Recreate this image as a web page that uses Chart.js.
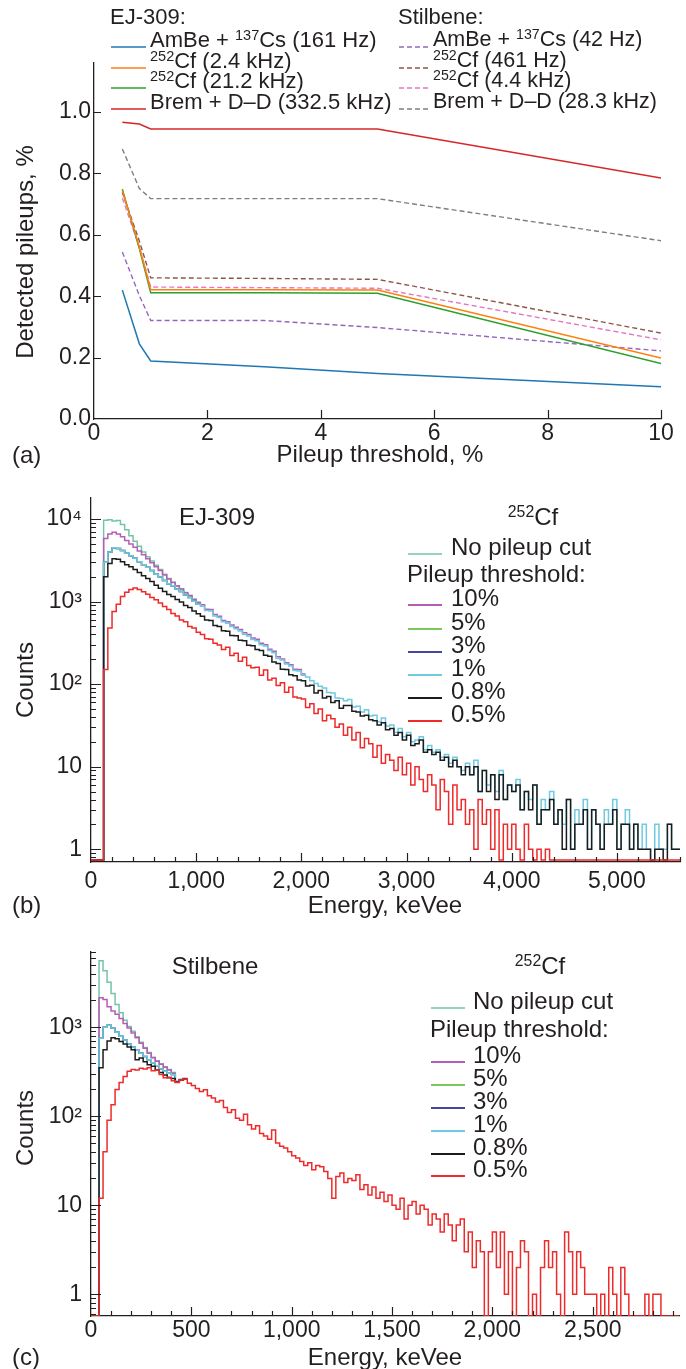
<!DOCTYPE html>
<html>
<head>
<meta charset="utf-8">
<script src="https://cdn.jsdelivr.net/npm/chart.js@4.4.1/dist/chart.umd.min.js"></script>
<style>
  html, body { margin: 0; padding: 0; background: #fff; }
  #page { position: relative; width: 686px; height: 1369px; overflow: hidden;
          font-family: 'Liberation Sans', Arial, Helvetica, sans-serif; color: #231f20; }
  canvas { position: absolute; left: 0; }
  .txt { position: absolute; white-space: nowrap; line-height: 1; }
  .txt sup { font-size: 0.66em; vertical-align: 0.5em; line-height: 0; }
</style>
</head>
<body>
<div id="page">
  <canvas id="chartA" width="686" height="470" style="top:0px"></canvas>
  <canvas id="chartB" width="686" height="450" style="top:470px"></canvas>
  <canvas id="chartC" width="686" height="449" style="top:920px"></canvas>
</div>
<script>
const FONT = "'Liberation Sans', Arial, Helvetica, sans-serif";
const INK = '#231f20';

// ---------- (a) detected pileups vs threshold ----------
const thresholds = [0.5, 0.8, 1, 3, 5, 10];
const ejAmBe  = [0.420, 0.245, 0.189, 0.170, 0.148, 0.105];
const ejCf24  = [0.745, 0.560, 0.421, 0.421, 0.420, 0.199];
const ejCf212 = [0.749, 0.555, 0.411, 0.411, 0.410, 0.181];
const ejBrem  = [0.967, 0.961, 0.945, 0.945, 0.945, 0.785];
const stAmBe  = [0.544, 0.402, 0.321, 0.321, 0.298, 0.222];
const stCf461 = [0.738, 0.580, 0.460, 0.458, 0.455, 0.280];
const stCf44  = [0.720, 0.560, 0.430, 0.428, 0.426, 0.258];
const stBrem  = [0.880, 0.751, 0.718, 0.718, 0.718, 0.581];
const ejLabels = ['AmBe + <sup>137</sup>Cs (161 Hz)', '<sup>252</sup>Cf (2.4 kHz)', '<sup>252</sup>Cf (21.2 kHz)', 'Brem + D–D (332.5 kHz)'];
const stLabels = ['AmBe + <sup>137</sup>Cs (42 Hz)', '<sup>252</sup>Cf (461 Hz)', '<sup>252</sup>Cf (4.4 kHz)', 'Brem + D–D (28.3 kHz)'];
const xTicksA = [0, 2, 4, 6, 8, 10];
const xLabelsA = ['0', '2', '4', '6', '8', '10'];
const yTicksA = [0, 0.2, 0.4, 0.6, 0.8, 1.0];
const yLabelsA = ['0.0', '0.2', '0.4', '0.6', '0.8', '1.0'];

// ---------- (b) EJ-309 252Cf spectra, 40 keVee bins ----------
const binB = 40;
const noCutB = [0,0,0,9700,9800,9500,9600,8600,7400,6300,5400,4700,4000,3500,3100,2750,2450,2150,1900,1720,1560,1430,1290,1190,1070,980];
const p10B = [0,0,0,5800,6600,6900,6600,6100,5500,5000,4550,4100,3700,3300,2950,2650,2380,2100,1880,1710,1550,1420,1280,1180,1060,
  975,915,810,800,700,665,590,570,520,488,458,420,400,362,350,312,300,264,250,214,202,182,172,152,150,133];
const p5B = [0,0,0,3000,4000,4500,4400,4150,3850,3600,3350,3050,2800,2600,2380,2150,1980,1800,1650,1560,1420,1330,1200,1120,1010,930];
const p3B = [0,0,0,3000,4000,4500,4400,4150,3850,3600,3350,3050,2800,2600,2380,2150,1980,1800,1650,1560,1420,1330,1200,1120,1010,930];
const p1B = [0,0,0,3000,4000,4500,4400,4150,3850,3600,
  3350,3050,2800,2600,2380,2150,1980,1800,1650,1560,
  1420,1330,1200,1120,1010,930,880,780,770,670,
  640,570,548,500,468,440,402,384,348,336,
  300,290,255,240,205,196,176,166,146,144,
  128,122,110,102,94,90,79,78,68,67,
  63,65,53,54,46,49,41,42,35,39,
  31,32,26,29,23,26,20,21,23,16,
  18,15,16,13,14,11,13,10,9,11,
  8,12,5,9,6,8,5,9,4,6,
  5,7,3,5,4,6,2,4,3,5,
  2,3,2,4,1,3,2,4,1,3,
  2,1,3,2,4,1,2,3,1,2,
  1,2,1,0,2,1,1,2,1,1];
const p08B = [0,0,0,2000,2900,3300,3250,3050,2800,2650,
  2450,2250,2050,1900,1750,1580,1450,1330,1220,1150,
  1060,990,900,850,770,715,665,600,590,515,
  500,445,438,388,385,340,335,296,292,262,
  255,224,218,186,178,152,150,130,126,112,
  110,95,97,78,84,68,71,60,63,51,
  55,55,47,46,41,42,37,36,32,34,
  28,29,24,26,21,24,18,19,21,15,
  16,14,15,12,13,10,12,10,8,10,
  8,10,5,9,5,8,4,8,4,6,
  5,6,3,5,3,6,2,3,3,4,
  2,3,1,4,1,2,2,3,1,3,
  2,1,2,2,3,1,2,2,1,2,
  1,1,1,0,1,1,0,2,1,1];
const p05B = [0,0,0,150,480,760,930,1150,1300,1400,
  1460,1400,1320,1230,1120,1050,960,870,800,720,
  670,600,570,500,478,424,400,356,350,312,
  298,262,280,222,236,190,212,168,158,160,
  128,148,112,118,96,104,80,92,70,68,
  66,52,58,44,50,36,42,38,30,33,
  24,30,21,26,17,22,19,13,18,11,
  14,12,9,13,8,11,6,10,7,5,
  8,6,3,7,5,2,6,3,4,2,
  3,1,4,2,3,1,3,0,2,1,
  2,1,0,2,1,0,1,0,1,0,
  0,0,0,0,0,0,0,0,0,0,
  0,0,0,0,0,0,0,0,0,0,
  0,0,0,0,0,0,0,0,0,0];
const xTicksB = [0, 1000, 2000, 3000, 4000, 5000];
const xLabelsB = ['0', '1,000', '2,000', '3,000', '4,000', '5,000'];

// ---------- (c) Stilbene 252Cf spectra, 20 keVee bins ----------
const binC = 20;
const noCutC = [0,0,5600,4300,3200,2400,1800,1450,1200,1020,900,780,680,590,520,460,420,390,360,335,310,245,258,265];
const p10C = [0,0,2150,2050,1700,1520,1400,1250,1100,980,860,760,660,580,510,455,415,385,355,330,305,245,258,265];
const p5C = [0,0,750,1000,1050,980,880,790,720,650,600,550,510,470,430,400,370,340,320,305,295,244,257,264];
const p3C = [0,0,750,1000,1050,980,880,790,720,650,600,550,510,470,430,400,370,340,320,305,295,244,257,264];
const p1C = [0,0,750,1000,1050,980,880,790,720,650,600,550,510,470,430,400,370,340,320,305,295,244,257,264];
const p08C = [0,0,350,560,700,760,740,690,650,600,560,430,450,410,380,365,330,310,290,270,265,242,256,263];
const p05C = [0,0,12,40,90,135,200,240,280,320,
  335,330,345,340,350,325,330,295,270,275,
  250,240,255,262,235,222,205,190,198,170,
  160,145,150,125,110,118,95,90,105,80,
  72,78,64,60,55,70,50,46,44,40,
  36,34,31,28,30,25,28,27,24,20,
  12,21,23,18,20,19,22,15,17,13,
  16,12,14,11,13,10,9,12,7,10,
  11,8,10,9,6,8,7,5,8,6,
  4,6,7,3,5,2,4,3,0,3,
  5,2,5,1,3,0,2,4,3,0,
  1,0,2,4,2,3,1,0,5,3,
  1,3,2,1,1,1,0,1,0,2,
  1,0,2,1,0,0,0,0,1,0,
  1,1,0,0,0,0,0];
const xTicksC = [0, 500, 1000, 1500, 2000, 2500];
const xLabelsC = ['0', '500', '1,000', '1,500', '2,000', '2,500'];

const decades = [1, 10, 100, 1000, 10000];
const decadeLabels = ['1', '10', '10²', '10³', '10⁴'];
const pileLabels = ['10%', '5%', '3%', '1%', '0.8%', '0.5%'];

const colorsEJ = ['#1f77b4', '#ff7f0e', '#2ca02c', '#d62728'];
const colorsSt = ['#9467bd', '#8c564b', '#e377c2', '#7f7f7f'];
const noCutColor = '#74c5a6';
const pileColors = ['#b65db6', '#7ec75c', '#45479b', '#6fcae0', '#1c1c1c', '#ee2a2a'];

// inward tick marks, placed through the chart's own scales
const inTicks = {
  id: 'inTicks',
  afterDatasetsDraw(chart, args, opts) {
    const { ctx, chartArea } = chart;
    ctx.save();
    ctx.strokeStyle = INK;
    ctx.lineWidth = 1.2;
    ctx.beginPath();
    opts.x.forEach(t => {
      const px = Math.round(chart.scales.x.getPixelForValue(t.v)) + 0.5;
      ctx.moveTo(px, chartArea.bottom);
      ctx.lineTo(px, chartArea.bottom - t.len);
    });
    opts.y.forEach(t => {
      const py = Math.round(chart.scales.y.getPixelForValue(t.v)) + 0.5;
      ctx.moveTo(chartArea.left, py);
      ctx.lineTo(chartArea.left + t.len, py);
    });
    ctx.stroke();
    ctx.restore();
  }
};

function axes(o) {
  const tickFont = { family: FONT, size: 23 };
  return {
    x: {
      type: 'linear', min: o.xMin, max: o.xMax,
      grid: { display: false, drawTicks: false },
      border: { color: INK, width: 1.3 },
      ticks: { color: INK, font: tickFont, padding: o.xPad, maxRotation: 0, autoSkip: false,
               callback: v => o.xLabels[o.xTicks.indexOf(v)] },
      afterBuildTicks: s => { s.ticks = o.xTicks.filter(v => v >= o.xMin && v <= o.xMax).map(v => ({ value: v })); },
      afterFit: s => { s.height = o.xHeight; }
    },
    y: {
      type: o.yType, min: o.yMin, max: o.yMax,
      grid: { display: false, drawTicks: false },
      border: { color: INK, width: 1.3 },
      ticks: { color: INK, font: tickFont, padding: o.yPad, autoSkip: false,
               callback: v => o.yLabels[o.yTicks.indexOf(v)] },
      afterBuildTicks: s => { s.ticks = o.yTicks.filter(v => v >= o.yMin && v <= o.yMax).map(v => ({ value: v })); },
      afterFit: s => { s.width = o.yWidth; }
    }
  };
}

function logMinorTicks(lo, hi) {
  const out = [];
  for (let d = 0.1; d <= hi; d *= 10) {
    for (let k = 1; k <= 9; k++) {
      const v = Math.round(k * d * 1000) / 1000;
      if (v >= lo && v <= hi) out.push({ v, len: k === 1 ? 10 : 5 });
    }
  }
  return out;
}

function linTicks(step, minor, max) {
  const out = [];
  for (let v = minor; v <= max; v += minor) {
    out.push({ v, len: v % step === 0 ? 9 : 5 });
  }
  return out;
}

function histPoints(values, bin, floor) {
  const pts = values.map((v, i) => ({ x: i * bin, y: v > 0 ? v : floor }));
  const last = values[values.length - 1];
  pts.push({ x: values.length * bin, y: last > 0 ? last : floor });
  return pts;
}

const common = {
  responsive: false, animation: false, devicePixelRatio: 1, events: [],
  plugins: { legend: { display: false }, tooltip: { enabled: false } }
};

// ---------- chart (a) ----------
const ejSeries = [ejAmBe, ejCf24, ejCf212, ejBrem];
const stSeries = [stAmBe, stCf461, stCf44, stBrem];
const dataA = [];
ejSeries.forEach((s, k) => dataA.push({
  label: ejLabels[k].replace(/<\/?sup>/g, ''),
  data: thresholds.map((t, i) => ({ x: t, y: s[i] })),
  borderColor: colorsEJ[k], borderWidth: 1.5, pointRadius: 0, tension: 0
}));
stSeries.forEach((s, k) => dataA.push({
  label: stLabels[k].replace(/<\/?sup>/g, ''),
  data: thresholds.map((t, i) => ({ x: t, y: s[i] })),
  borderColor: colorsSt[k], borderWidth: 1.4, borderDash: [5, 3], pointRadius: 0, tension: 0
}));

new Chart(document.getElementById('chartA'), {
  type: 'line',
  data: { datasets: dataA },
  options: {
    ...common,
    layout: { padding: { left: 0, right: 25, top: 63, bottom: 0 } },
    scales: axes({ xMin: 0, xMax: 10, xTicks: xTicksA, xLabels: xLabelsA, xPad: 1, xHeight: 51,
                   yType: 'linear', yMin: 0, yMax: 1.16, yTicks: yTicksA, yLabels: yLabelsA, yPad: 3, yWidth: 94 }),
    plugins: { ...common.plugins,
      inTicks: { x: xTicksA.slice(1).map(v => ({ v, len: 9 })), y: yTicksA.slice(1).map(v => ({ v, len: 7 })) } }
  },
  plugins: [inTicks]
});

// ---------- charts (b) and (c) ----------
function spectrumChart(id, bin, series, o) {
  const datasets = series.map((s, k) => ({
    label: k === 0 ? 'No pileup cut' : pileLabels[k - 1],
    data: histPoints(s, bin, o.yMin),
    borderColor: k === 0 ? noCutColor : pileColors[k - 1],
    borderWidth: o.lineWidth, pointRadius: 0, stepped: true, order: series.length - k
  }));
  new Chart(document.getElementById(id), {
    type: 'line',
    data: { datasets },
    options: {
      ...common,
      layout: { padding: { left: 0, right: o.padRight, top: o.padTop, bottom: 0 } },
      scales: axes({ xMin: 0, xMax: o.xMax, xTicks: o.xTicks, xLabels: o.xLabels, xPad: o.xPad, xHeight: o.xHeight,
                     yType: 'logarithmic', yMin: o.yMin, yMax: o.yMax, yTicks: decades, yLabels: decadeLabels,
                     yPad: 9, yWidth: o.yWidth }),
      plugins: { ...common.plugins,
        inTicks: { x: linTicks(o.xStep, o.xMinor, o.xMax), y: logMinorTicks(o.yMin, o.yMax) } }
    },
    plugins: [inTicks]
  });
}

spectrumChart('chartB', binB, [noCutB, p10B, p5B, p3B, p1B, p08B, p05B], {
  xMax: 5600, xTicks: xTicksB, xLabels: xLabelsB, xStep: 1000, xMinor: 200, xPad: 6, xHeight: 58,
  yMin: 0.74, yMax: 18000, yWidth: 91, padTop: 28, padRight: 6, lineWidth: 1.5
});
spectrumChart('chartC', binC, [noCutC, p10C, p5C, p3C, p1C, p08C, p05C], {
  xMax: 2930, xTicks: xTicksC, xLabels: xLabelsC, xStep: 500, xMinor: 100, xPad: 1, xHeight: 53,
  yMin: 0.57, yMax: 7000, yWidth: 91, padTop: 32, padRight: 7, lineWidth: 1.5
});

// ---------- text and legends ----------
const page = document.getElementById('page');
function addText(html, x, y, size, align, rotate) {
  const el = document.createElement('div');
  el.className = 'txt';
  el.innerHTML = html;
  el.style.fontSize = size + 'px';
  el.style.left = x + 'px';
  el.style.top = y + 'px';
  const tx = align === 'center' ? '-50%' : (align === 'right' ? '-100%' : '0');
  el.style.transform = 'translate(' + tx + ', -50%)' + (rotate ? ' rotate(-90deg)' : '');
  page.appendChild(el);
}
function addKey(x, y, w, color, dashed, width) {
  const el = document.createElement('div');
  el.style.cssText = 'position:absolute;left:' + x + 'px;top:' + (y - 3) + 'px;width:' + w + 'px;height:6px';
  el.innerHTML = '<svg width="' + w + '" height="6"><line x1="0" y1="3" x2="' + w + '" y2="3" stroke="' + color +
    '" stroke-width="' + width + '"' + (dashed ? ' stroke-dasharray="5,3"' : '') + '/></svg>';
  page.appendChild(el);
}

// (a)
addText('EJ-309:', 110, 17, 22, 'left');
addText('Stilbene:', 398, 17, 22, 'left');
const rowsA = [40, 60.5, 81, 101.5];
ejLabels.forEach((l, k) => { addKey(111, rowsA[k] - 1, 35, colorsEJ[k], false, 1.5); addText(l, 150, rowsA[k], 22, 'left'); });
stLabels.forEach((l, k) => { addKey(399, rowsA[k] - 1, 31, colorsSt[k], true, 1.4); addText(l, 433, rowsA[k], 21.5, 'left'); });
addText('Detected pileups, %', 25, 252, 24, 'center', true);
addText('Pileup threshold, %', 380, 454, 24, 'center');
addText('(a)', 12, 455, 24, 'left');

// (b)
addText('EJ-309', 217, 517, 24, 'center');
addText('<sup>252</sup>Cf', 533, 517, 24, 'center');
function pileLegend(keyX, textX, rows) {
  addKey(keyX, rows[0] - 1, 34, noCutColor, false, 1.6);
  addText('No pileup cut', textX, rows[0], 24, 'left');
  addText('Pileup threshold:', keyX - 1, rows[1], 24, 'left');
  pileLabels.forEach((l, k) => {
    addKey(keyX, rows[k + 2] - 1, 34, pileColors[k], false, 2);
    addText(l, textX, rows[k + 2], 24, 'left');
  });
}
pileLegend(408, 451, [547, 574, 598, 622, 645, 668, 691, 714]);
addText('Counts', 25, 680, 24, 'center', true);
addText('Energy, keVee', 385, 905, 24, 'center');
addText('(b)', 12, 905, 24, 'left');

// (c)
addText('Stilbene', 215, 966, 24, 'center');
addText('<sup>252</sup>Cf', 540, 966, 24, 'center');
pileLegend(431, 473, [1001, 1029, 1055, 1078, 1101, 1124, 1147, 1169]);
addText('Counts', 25, 1128, 24, 'center', true);
addText('Energy, keVee', 385, 1357, 24, 'center');
addText('(c)', 12, 1357, 24, 'left');
</script>
</body>
</html>
